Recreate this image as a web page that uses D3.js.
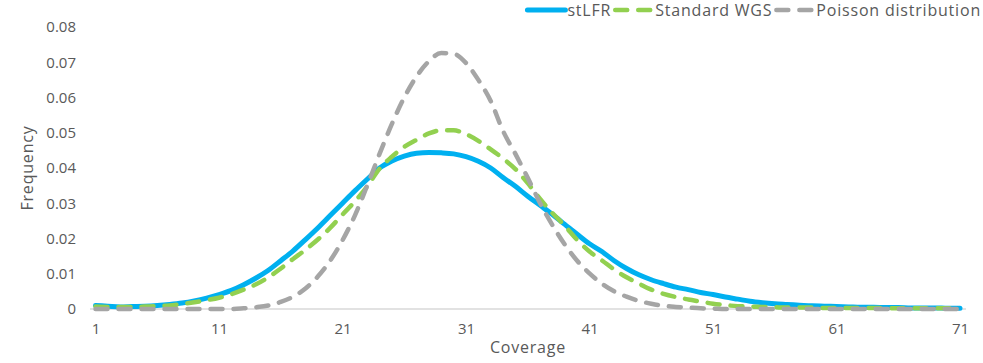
<!DOCTYPE html>
<html>
<head>
<meta charset="utf-8">
<script src="https://cdn.jsdelivr.net/npm/d3@7"></script>
<style>
  body { margin: 0; background: #fff; }
  text { font-family: "Open Sans", sans-serif; fill: #595959; }
</style>
</head>
<body>
<svg id="chart" width="983" height="363"></svg>
<script>
// coverage categories 1..71
const coverage = d3.range(1, 72)

const stLFR = [
  0.0010, 0.0008, 0.0006, 0.0007, 0.0008, 0.0010, 0.0013, 0.0017, 0.0023, 0.0031,
  0.0041, 0.0053, 0.0069, 0.0088, 0.0110, 0.0137, 0.0165, 0.0197, 0.0230, 0.0265,
  0.0300, 0.0335, 0.0368, 0.0400, 0.0420, 0.0434, 0.0442, 0.0444, 0.0443, 0.0440,
  0.0432, 0.0419, 0.0400, 0.0373, 0.0348, 0.0320, 0.0294, 0.0268, 0.0240, 0.0212,
  0.0185, 0.0163, 0.0137, 0.0115, 0.0097, 0.0083, 0.0072, 0.0062, 0.0055, 0.0047,
  0.0041, 0.0034, 0.0028, 0.0022, 0.0018, 0.0015, 0.0013, 0.0011, 0.0009, 0.0008,
  0.0007, 0.0006, 0.0005, 0.0005, 0.0004, 0.0004, 0.0003, 0.0003, 0.0003, 0.0002,
  0.0002
]

const standardWGS = [
  0.0007, 0.0006, 0.0006, 0.0006, 0.0007, 0.0008, 0.0010, 0.0014, 0.0019, 0.0025,
  0.0032, 0.0042, 0.0055, 0.0070, 0.0090, 0.0115, 0.0142, 0.0168, 0.0197, 0.0230,
  0.0268, 0.0305, 0.0348, 0.0398, 0.0432, 0.0460, 0.0480, 0.0498, 0.0507, 0.0507,
  0.0496, 0.0477, 0.0453, 0.0427, 0.0397, 0.0357, 0.0312, 0.0272, 0.0236, 0.0196,
  0.0163, 0.0138, 0.0112, 0.0090, 0.0072, 0.0055, 0.0043, 0.0034, 0.0027, 0.0021,
  0.0015, 0.0011, 0.0008, 0.0007, 0.0006, 0.0005, 0.0004, 0.0004, 0.0004, 0.0003,
  0.0003, 0.0003, 0.0003, 0.0003, 0.0002, 0.0002, 0.0002, 0.0002, 0.0002, 0.0002,
  0.0002
]

const poisson = [
  0, 0, 0, 0, 0, 0, 0, 0, 0, 0,
  0, 0, 0.0002, 0.0005, 0.0010, 0.0020, 0.0035, 0.0058, 0.0092, 0.0137,
  0.0195, 0.0265, 0.0350, 0.0440, 0.0525, 0.0600, 0.0660, 0.0703, 0.0726, 0.0724,
  0.0698, 0.0650, 0.0590, 0.0505, 0.0440, 0.0372, 0.0300, 0.0238, 0.0183, 0.0137,
  0.0101, 0.0072, 0.0050, 0.0035, 0.0023, 0.0015, 0.0009, 0.0006, 0.0004, 0.0002,
  0.0001, 0, 0, 0, 0, 0, 0, 0, 0, 0,
  0, 0, 0, 0, 0, 0, 0, 0, 0, 0,
  0
]

const xTicks = [1, 11, 21, 31, 41, 51, 61, 71]
const yTicks = [0, 0.01, 0.02, 0.03, 0.04, 0.05, 0.06, 0.07, 0.08]

const series = [
  { name: 'stLFR', values: stLFR, color: '#00b0f0', dash: null },
  { name: 'Standard WGS', values: standardWGS, color: '#92d050', dash: '12,11' },
  { name: 'Poisson distribution', values: poisson, color: '#a5a5a5', dash: '12,11' }
]

let svg = d3.select('#chart')

let x = d3.scaleLinear().domain([1, 71]).range([95.5, 960])
let y = d3.scaleLinear().domain([0, 0.08]).range([309, 27])

// x axis line
svg.append('line')
  .attr('x1', 90).attr('x2', 966)
  .attr('y1', y(0)).attr('y2', y(0))
  .attr('stroke', '#d9d9d9')
  .attr('stroke-width', 1.3)

// tick labels
let xAxis = svg.append('g')
  .attr('transform', `translate(0, ${y(0)})`)
  .call(d3.axisBottom(x).tickValues(xTicks).tickSize(0).tickPadding(14))
xAxis.select('.domain').remove()
xAxis.selectAll('text').attr('font-size', 15).attr('fill', '#595959').attr('font-family', null)

let yAxis = svg.append('g')
  .attr('transform', 'translate(76, 0)')
  .call(d3.axisLeft(y).tickValues(yTicks).tickSize(0).tickPadding(0)
    .tickFormat(d => d === 0 ? '0' : d3.format('.2f')(d)))
yAxis.select('.domain').remove()
yAxis.selectAll('text').attr('font-size', 15).attr('fill', '#595959').attr('font-family', null)

// axis titles
svg.append('text')
  .attr('x', 528).attr('y', 353)
  .attr('text-anchor', 'middle')
  .attr('font-size', 16)
  .attr('letter-spacing', 0.8)
  .text('Coverage')

svg.append('text')
  .attr('transform', 'translate(33, 168) rotate(-90)')
  .attr('text-anchor', 'middle')
  .attr('font-size', 16)
  .attr('letter-spacing', 0.8)
  .text('Frequency')

// lines
let line = d3.line()
  .x((d, i) => x(coverage[i]))
  .y(d => y(d))
  .curve(d3.curveMonotoneX)

// stLFR underneath, then WGS, Poisson on top
series.forEach(s => {
  svg.append('path')
    .datum(s.values)
    .attr('d', line)
    .attr('fill', 'none')
    .attr('stroke', s.color)
    .attr('stroke-width', s.dash ? 4.5 : 5)
    .attr('stroke-linecap', 'round')
    .attr('stroke-linejoin', 'round')
    .attr('stroke-dasharray', s.dash)
})

// legend, right aligned at the top
let legend = svg.append('g')
let cursor = 981
series.slice().reverse().forEach(s => {
  let t = legend.append('text')
    .attr('y', 16)
    .attr('font-size', 16)
    .attr('letter-spacing', 0.8)
    .attr('text-anchor', 'end')
    .attr('x', cursor)
    .text(s.name)
  let w = t.node().getComputedTextLength()
  let lx2 = cursor - w - 2
  legend.append('line')
    .attr('x1', lx2 - 38).attr('x2', lx2)
    .attr('y1', 10).attr('y2', 10)
    .attr('stroke', s.color)
    .attr('stroke-width', s.dash ? 4.5 : 5)
    .attr('stroke-linecap', 'round')
    .attr('stroke-dasharray', s.dash ? '12,11' : null)
  cursor = lx2 - 38 - 4
})
</script>
</body>
</html>
